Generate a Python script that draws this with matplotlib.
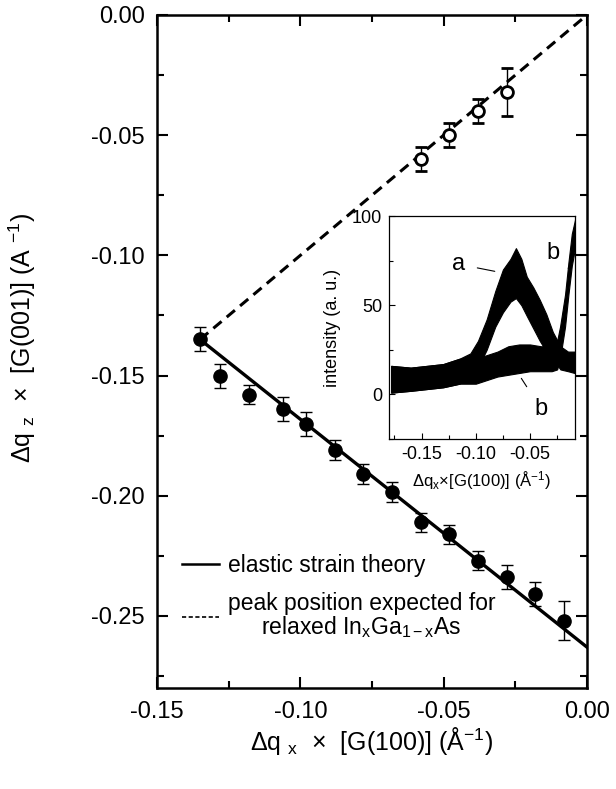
import numpy as np
import matplotlib.pyplot as plt
from matplotlib.lines import Line2D
from matplotlib.ticker import MultipleLocator, FormatStrFormatter

plt.rcParams['font.family'] = ['Liberation Sans', 'DejaVu Sans']
plt.rcParams['axes.unicode_minus'] = False
plt.rcParams['mathtext.fontset'] = 'custom'
plt.rcParams['mathtext.rm'] = 'Liberation Sans'
plt.rcParams['mathtext.it'] = 'Liberation Sans'

# strained layer peaks (filled) with errors
qx_strained = [-0.135, -0.128, -0.118, -0.106, -0.098, -0.088, -0.078, -0.068,
               -0.058, -0.048, -0.038, -0.028, -0.018, -0.008]
qz_strained = [-0.135, -0.150, -0.158, -0.164, -0.170, -0.181, -0.191, -0.1985,
               -0.211, -0.216, -0.227, -0.234, -0.241, -0.252]
err_strained = [0.005, 0.005, 0.004, 0.005, 0.005, 0.004, 0.004, 0.004,
                0.004, 0.004, 0.004, 0.005, 0.005, 0.008]

# relaxed peaks (open)
qx_relaxed = [-0.058, -0.048, -0.038, -0.028]
qz_relaxed = [-0.060, -0.050, -0.040, -0.032]
err_relaxed = [0.005, 0.005, 0.005, 0.010]

# theory lines
qx_theory = [-0.135, 0.0]
qz_theory = [-0.135, -0.263]
qx_relax_line = [-0.135, 0.0]
qz_relax_line = [-0.135, 0.0]

# inset intensity bands (lower / upper envelope of the noisy scans)
a_x = [-0.178, -0.16, -0.145, -0.13, -0.115, -0.105, -0.098, -0.090, -0.082, -0.075,
       -0.068, -0.063, -0.058, -0.053, -0.047, -0.041, -0.035, -0.029, -0.022,
       -0.015, -0.009]
a_lo = [1, 2, 3, 4, 6, 10, 15, 25, 38, 46, 52, 54, 50, 44, 37, 30, 24, 20, 14, 13, 12]
a_hi = [16, 15, 16, 17, 20, 23, 30, 42, 58, 70, 76, 82, 76, 66, 60, 53, 45, 35, 27, 24, 24]

b_x = [-0.178, -0.16, -0.145, -0.13, -0.115, -0.10, -0.09, -0.08, -0.07, -0.06,
       -0.05, -0.04, -0.03, -0.025, -0.0223, -0.0177, -0.0146, -0.0115, -0.0085]
b_lo = [1, 2, 3, 4, 6, 6, 8, 10, 11, 12, 13, 13, 13, 14, 20, 38, 56, 72, 82]
b_hi = [16, 15, 16, 17, 20, 20, 22, 24, 27, 28, 28, 27, 27, 30, 38, 56, 74, 90, 98]

fig = plt.figure(figsize=(6.16, 7.89), dpi=100)
ax = fig.add_axes([0.2549, 0.128, 0.698, 0.853])

ax.plot(qx_relax_line, qz_relax_line, color='black', lw=2.2, ls=(0, (3.5, 2.2)))
ax.plot(qx_theory, qz_theory, color='black', lw=2.4)
ax.errorbar(qx_strained, qz_strained, yerr=err_strained, fmt='o', color='black',
            ms=9.5, elinewidth=1.0, capsize=4, capthick=1.0)
ax.errorbar(qx_relaxed, qz_relaxed, yerr=err_relaxed, fmt='o', color='black',
            mfc='white', mec='black', mew=2.0, ms=8.5, elinewidth=1.0,
            capsize=4, capthick=1.0)

ax.set_xlim(-0.15, 0.0)
ax.set_ylim(-0.28, 0.0)
ax.xaxis.set_major_locator(MultipleLocator(0.05))
ax.xaxis.set_minor_locator(MultipleLocator(0.025))
ax.yaxis.set_major_locator(MultipleLocator(0.05))
ax.yaxis.set_minor_locator(MultipleLocator(0.025))
ax.xaxis.set_major_formatter(FormatStrFormatter('%.2f'))
ax.yaxis.set_major_formatter(FormatStrFormatter('%.2f'))
ax.tick_params(which='both', direction='in', top=True, right=True, labelsize=17, width=1.5)
ax.tick_params(which='major', length=8, pad=9)
ax.tick_params(which='minor', length=5)
for s in ax.spines.values():
    s.set_linewidth(1.8)

ax.set_xlabel(r'$\Delta$q $_x$  ×  [G(100)] (Å$^{-1}$)', fontsize=18, labelpad=2)
ax.set_ylabel(r'$\Delta$q $_z$  ×  [G(001)] (A $^{-1}$)', fontsize=18)
ax.yaxis.set_label_coords(-0.277, 0.52)

handles = [Line2D([], [], color='black', lw=1.8),
           Line2D([], [], color='black', lw=1.2, ls=(0, (2.5, 1.5)))]
labels = ['elastic strain theory',
          'peak position expected for\nrelaxed In$_x$Ga$_{1-x}$As']
leg = ax.legend(handles, labels, loc='lower left', bbox_to_anchor=(0.01, 0.04),
                frameon=False, fontsize=16.5, handlelength=1.6, handletextpad=0.4,
                labelspacing=0.62)
for t in leg.get_texts():
    t.set_multialignment('center')
    t.set_linespacing(1.0)

# inset
ins = fig.add_axes([0.6315, 0.4436, 0.302, 0.2826])
ins.fill_between(a_x, a_lo, a_hi, color='black', lw=0.8)
ins.fill_between(b_x, b_lo, b_hi, color='black', lw=0.8)
ins.set_xlim(-0.18, -0.0085)
ins.set_ylim(-25, 100)
ins.xaxis.set_major_locator(MultipleLocator(0.05))
ins.xaxis.set_minor_locator(MultipleLocator(0.025))
ins.yaxis.set_major_locator(MultipleLocator(50))
ins.yaxis.set_minor_locator(MultipleLocator(25))
ins.xaxis.set_major_formatter(FormatStrFormatter('%.2f'))
ins.tick_params(which='both', direction='in', labelsize=13, width=0.8, pad=5)
ins.tick_params(which='major', length=4)
ins.tick_params(which='minor', length=3)
for s in ins.spines.values():
    s.set_linewidth(0.9)
ins.set_xlabel(r'$\Delta$q$_x$×[G(100)] (Å$^{-1}$)', fontsize=12, labelpad=5)
ins.set_ylabel('intensity (a. u.)', fontsize=13, labelpad=8)

ins.annotate('a', xy=(-0.0825, 69), xytext=(-0.116, 73), fontsize=17,
             ha='center', va='center',
             arrowprops=dict(arrowstyle='-', color='black', lw=0.8, shrinkA=7, shrinkB=0))
ins.annotate('b', xy=(-0.058, 9), xytext=(-0.040, -8), fontsize=17,
             ha='center', va='center',
             arrowprops=dict(arrowstyle='-', color='black', lw=0.8, shrinkA=7, shrinkB=0))
ins.annotate('b', xy=(-0.0135, 70), xytext=(-0.029, 79), fontsize=17,
             ha='center', va='center',
             arrowprops=dict(arrowstyle='-', color='black', lw=0.8, shrinkA=6, shrinkB=0))

fig.savefig('out.png', dpi=100)
